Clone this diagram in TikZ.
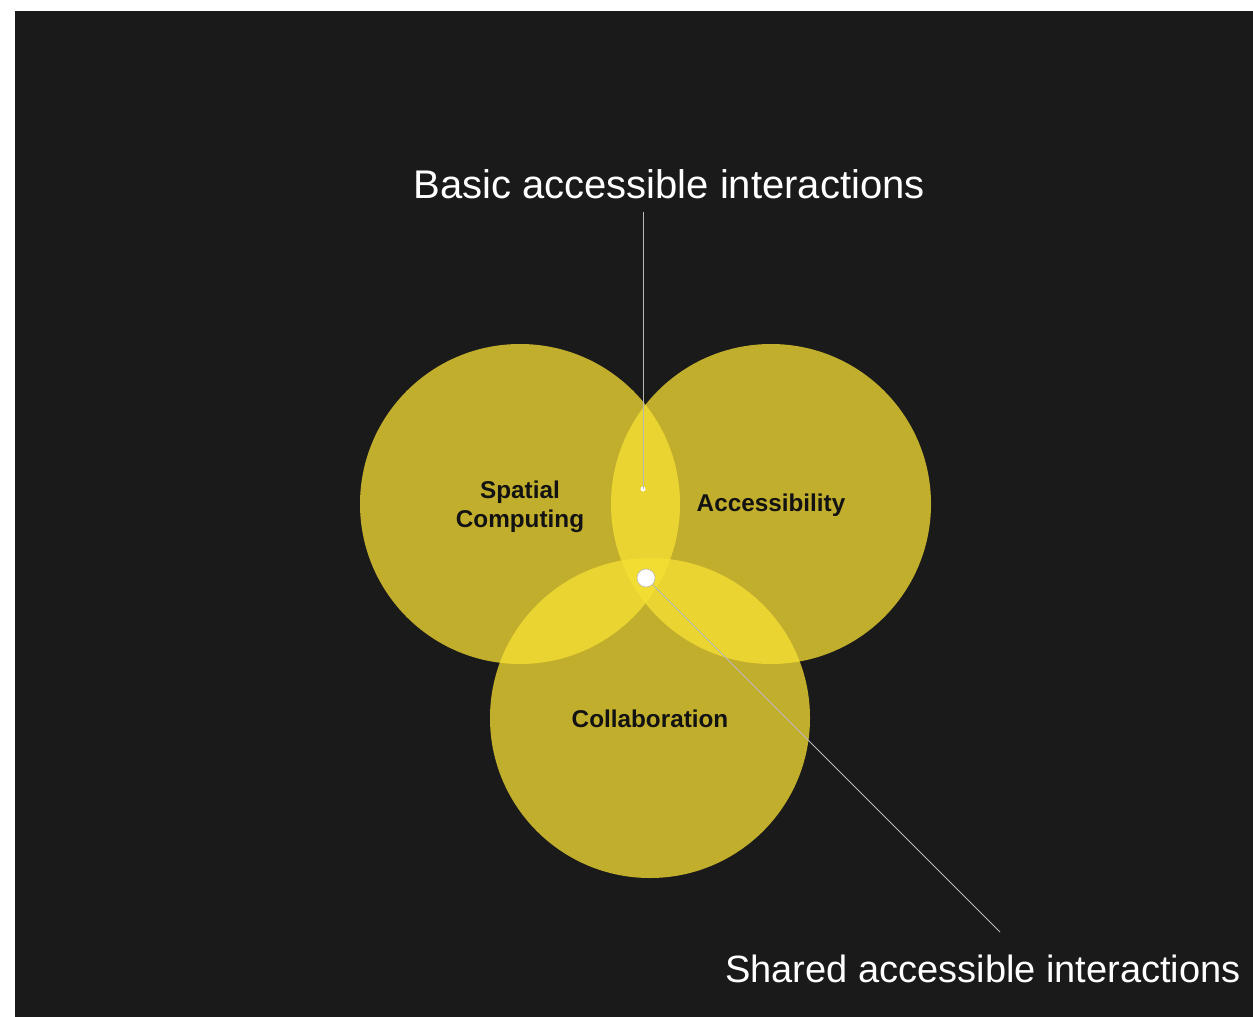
\documentclass[tikz,border=0pt]{standalone}
\usepackage{fontspec}
\setmainfont{Liberation Sans}
\definecolor{bgdark}{HTML}{1A1A1A}
\definecolor{circbase}{HTML}{C2AE2D}
\definecolor{circdouble}{HTML}{E9D431}
\definecolor{circtriple}{HTML}{F2DD33}
\definecolor{leadline}{HTML}{B8B8B8}
\begin{document}
\begin{tikzpicture}[x=1pt,y=-1pt,
  venn/.style={circle, minimum size=320pt, inner sep=0pt, fill=circbase},
  setlabel/.style={font=\bfseries\fontsize{24.3}{29.5}\selectfont, text=black!93, inner sep=0pt, align=center},
  biglabel/.style={font=\fontsize{40}{48}\selectfont, text=white, inner sep=0pt},
  leader/.style={draw=leadline, line width=1pt}
]
\useasboundingbox (0,0) rectangle (1253,1017);
\fill[bgdark] (15,11) rectangle (1253,1017);

% circles
\node[venn] (S) at (520,504) {};
\node[venn] (A) at (771,504) {};
\node[venn] (C) at (650,718) {};

% pairwise overlaps
\begin{scope}
  \clip (520,504) circle (160pt);
  \fill[circdouble] (771,504) circle (160pt);
  \fill[circdouble] (650,718) circle (160pt);
\end{scope}
\begin{scope}
  \clip (771,504) circle (160pt);
  \fill[circdouble] (650,718) circle (160pt);
\end{scope}
% triple overlap
\begin{scope}
  \clip (520,504) circle (160pt);
  \clip (771,504) circle (160pt);
  \fill[circtriple] (650,718) circle (160pt);
\end{scope}

% set labels
\node[setlabel] (Slab) at (520,507) {Spatial\\Computing};
\node[setlabel] (Alab) at (771,505) {Accessibility};
\node[setlabel] (Clab) at (650,719) {Collaboration};

% big labels
\node[biglabel, anchor=base] (basic) at (669,198) {Basic accessible interactions};
\node[biglabel, anchor=base, font=\fontsize{38}{46}\selectfont] (shared) at (983,982) {Shared accessible interactions};

% leader markers
\node[circle, fill=white, minimum size=5pt, inner sep=0pt] (bdot) at (643,489) {};
\node[circle, fill=white, draw=leadline, line width=0.6pt, minimum size=18pt, inner sep=0pt] (sdot) at (646,578) {};
\coordinate (btop) at (643,212);
\coordinate (send) at (1000,932);

\draw[leader] (btop) -- (bdot.center);
\draw[leader] (sdot) -- (send);
\end{tikzpicture}
\end{document}
